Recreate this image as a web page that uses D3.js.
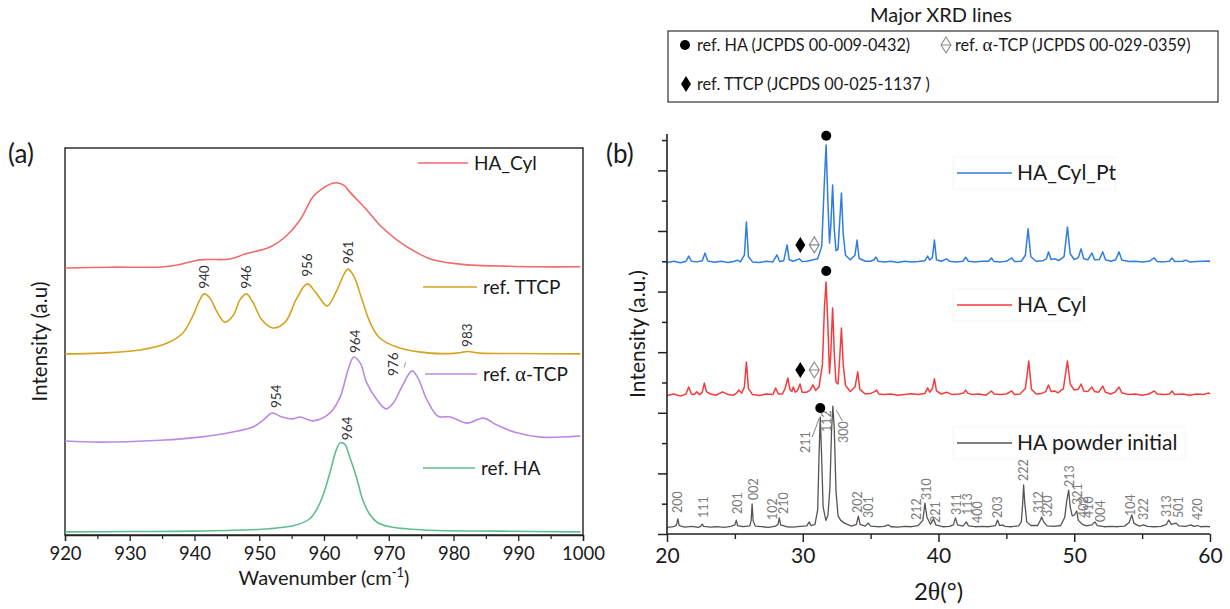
<!DOCTYPE html>
<html><head><meta charset="utf-8">
<script src="https://cdn.jsdelivr.net/npm/d3@7"></script>
<style>
body{margin:0;background:#fff;}
svg text{font-family:Lato,"Open Sans",sans-serif;fill:#1a1a1a;}
</style></head><body>
<svg id="chart" width="1230" height="609"></svg>
<script>
// ---------- Panel (a): Raman spectra, stacked (wavenumber cm-1, intensity a.u.) ----------
const ramanNames = ["HA_Cyl", "ref. TTCP", "ref. \u03b1-TCP", "ref. HA"];
const ramanColors = ["#f26a6a", "#d6a31e", "#bb8ae6", "#5cbf8c"];

const ramanHACyl = [[920,69.0],[927,69.2],[935.4,69.3],[938,70.0],[940.8,71.1],[945.5,71.3],[947.8,72.6],
  [951.7,74.4],[954.0,77.0],[956.3,81.4],[958.3,87.4],[959.6,89.3],[961.2,90.8],[962.0,91.0],[963.2,90.2],[964.0,88.6],
  [966.6,84.0],[968.6,80.1],[971.3,76.2],[974.4,72.9],[976.8,71.1],[982.1,69.8],[987.2,69.5],[992.3,69.3],[999.6,69.3]];

const ramanTTCP = [[920,46.8],[925.4,47.0],[931.6,47.8],[935.8,49.6],[938.2,52.2],[939.8,56.8],[940.8,60.7],
  [941.5,62.3],[942.4,61.2],[943.5,57.6],[944.7,55.0],[946.0,56.8],[947.0,60.7],[948.0,62.3],[949.0,60.2],
  [950.4,55.6],[952.1,53.5],[954.0,55.0],[955.8,61.2],[957.4,64.9],[958.8,62.5],[960.5,59.2],[962.0,63.3],
  [963.1,67.4],[963.7,68.7],[964.6,66.9],[965.9,60.7],[967.1,55.0],[968.6,50.9],[971.7,48.3],[976.4,47.0],
  [980.5,47.0],[982.2,47.4],[984.0,47.0],[990,46.9],[999.6,46.8]];

const ramanATCP = [[920,24.3],[925.4,24.0],[934.7,24.5],[940.8,25.3],[945.9,26.6],[949.0,27.9],[950.6,29.7],
  [952.0,31.5],[953.5,30.5],[955.1,30.0],[956.3,30.5],[958.3,29.5],[960.9,31.5],[962.5,35.7],[963.7,42.6],
  [964.6,46.0],[965.6,44.4],[966.6,39.3],[968.2,34.9],[969.6,32.6],[970.7,34.1],[972.0,38.2],[973.6,42.4],
  [974.5,40.6],[975.9,34.9],[977.6,30.7],[979.5,30.5],[982.1,28.9],[984.6,30.2],[986.7,28.4],[989.8,26.4],
  [993.4,25.3],[999.6,25.6]];

const ramanHA = [[920,0.8],[930,0.9],[939.6,1.0],[951.5,1.6],[955.5,2.5],[957.8,4.2],[959.0,7.0],[959.8,10.0],
  [960.9,16.0],[961.8,21.5],[962.5,23.8],[963.2,23.5],[964.0,20.0],[965.0,15.0],[966.0,9.0],[967.0,5.5],
  [968.2,3.3],[970.0,2.2],[975.3,1.3],[987.2,1.0],[999.6,0.8]];

const ramanSeries = [ramanHACyl, ramanTTCP, ramanATCP, ramanHA];

// peak annotations: [text, wavenumber, intensity at label foot]
const ramanPeakLabels = [["940",941.5,63.6],["946",948.0,63.6],["956",957.4,66.7],["961",963.7,70.0],
  ["983",982.1,48.6],["954",952.6,32.8],["964",964.8,47.0],["976",970.7,41.1],["964",963.6,24.5]];

const ramanTicks = [920,930,940,950,960,970,980,990,1000];
const ramanMinorTicks = [925,935,945,955,965,975,985,995];

// ---------- Panel (b): XRD patterns, stacked (2theta deg, intensity a.u.) ----------
const xrdNames = ["HA_Cyl_Pt", "HA_Cyl", "HA powder initial"];
const xrdColors = ["#2f7de1", "#f43c3c", "#555555"];

const xrdHACylPt = [[20.0,8.96],[20.5,9.00],[21.0,8.95],[21.4,9.00],[21.6,9.17],[21.8,9.00],[22.2,8.98],[22.6,9.02],
  [22.8,9.27],[23.0,9.01],[23.5,8.97],[24.0,9.00],[24.5,8.96],[25.0,9.00],[25.2,9.04],[25.4,8.98],[25.7,9.2],
  [25.85,10.30],[26.0,9.15],[26.3,8.98],[26.8,8.96],[27.3,9.00],[27.8,8.98],[28.1,9.21],[28.3,8.99],[28.6,9.02],
  [28.85,9.54],[29.0,9.05],[29.3,9.00],[29.75,9.08],[29.95,8.99],[30.3,9.00],[30.7,9.04],[31.1,9.08],[31.4,9.5],
  [31.58,11.5],[31.72,12.84],[31.85,11.0],[31.97,9.6],[32.07,10.2],[32.2,11.52],[32.33,10.0],[32.45,9.35],
  [32.6,9.4],[32.72,10.3],[32.85,11.25],[32.98,9.9],[33.15,9.2],[33.5,9.05],[33.85,9.2],[34.0,9.70],[34.15,9.1],
  [34.6,9.00],[35.0,9.00],[35.25,9.05],[35.4,9.14],[35.55,9.00],[36.0,8.98],[36.5,9.00],[37.0,8.96],[37.5,9.00],
  [38.0,8.98],[38.5,8.99],[39.0,9.02],[39.2,9.17],[39.35,9.04],[39.55,9.12],[39.7,9.70],[39.85,9.05],[40.2,9.00],
  [40.6,9.08],[40.8,9.00],[41.3,8.98],[41.8,9.00],[42.0,9.14],[42.2,9.00],[42.7,8.98],[43.2,9.00],[43.7,9.00],
  [43.9,9.11],[44.1,8.99],[44.6,8.98],[45.0,9.00],[45.4,9.11],[45.6,8.99],[46.1,9.00],[46.4,9.2],[46.6,10.07],
  [46.8,9.15],[47.2,9.00],[47.7,9.02],[47.95,9.08],[48.1,9.31],[48.3,9.06],[48.6,9.08],[48.85,9.02],[49.25,9.15],
  [49.5,10.13],[49.7,9.25],[50.0,9.06],[50.3,9.12],[50.5,9.41],[50.7,9.08],[51.0,9.05],[51.3,9.27],[51.5,9.05],
  [51.85,9.06],[52.1,9.31],[52.3,9.05],[52.7,9.00],[53.05,9.05],[53.3,9.31],[53.5,9.04],[54.0,8.99],[54.5,9.00],
  [55.0,8.98],[55.5,9.00],[55.9,9.11],[56.1,8.99],[56.6,8.98],[57.0,9.00],[57.2,9.11],[57.4,8.99],[58.0,9.00],
  [58.2,9.04],[58.5,8.98],[59.0,8.99],[59.5,9.00],[59.9,9.01],[60.0,8.98]];

const xrdHACyl = [[20.0,4.57],[20.5,4.62],[21.0,4.55],[21.4,4.62],[21.6,4.85],[21.8,4.62],[22.0,4.60],[22.2,4.69],
  [22.4,4.60],[22.6,4.68],[22.75,4.98],[22.9,4.70],[23.2,4.62],[23.6,4.58],[24.1,4.69],[24.5,4.60],[24.9,4.58],
  [25.15,4.66],[25.3,4.75],[25.5,4.65],[25.7,4.85],[25.85,5.68],[26.0,4.80],[26.3,4.60],[26.8,4.57],[27.3,4.62],
  [27.8,4.60],[28.0,4.82],[28.2,4.62],[28.5,4.62],[28.7,4.80],[28.9,5.15],[29.05,4.78],[29.2,4.70],[29.3,4.85],
  [29.45,4.68],[29.6,4.72],[29.8,4.95],[29.95,4.68],[30.3,4.68],[30.55,4.75],[30.75,4.92],[30.95,4.74],[31.2,4.85],
  [31.45,5.6],[31.6,7.5],[31.72,8.32],[31.85,6.9],[31.97,5.3],[32.05,5.8],[32.2,7.46],[32.33,5.9],[32.45,5.0],
  [32.6,4.95],[32.72,5.8],[32.85,6.80],[32.98,5.6],[33.15,4.9],[33.5,4.70],[33.85,4.85],[34.05,5.35],[34.2,4.78],
  [34.6,4.62],[35.0,4.64],[35.3,4.70],[35.45,4.75],[35.6,4.62],[36.0,4.60],[36.5,4.62],[37.0,4.58],[37.5,4.60],
  [38.0,4.63],[38.5,4.60],[39.0,4.64],[39.2,4.82],[39.35,4.68],[39.55,4.80],[39.7,5.12],[39.85,4.72],[40.2,4.62],
  [40.6,4.68],[41.0,4.60],[41.5,4.62],[41.85,4.65],[42.0,4.75],[42.15,4.65],[42.5,4.60],[43.0,4.62],[43.5,4.58],
  [43.9,4.72],[44.1,4.62],[44.6,4.60],[45.0,4.62],[45.4,4.72],[45.6,4.60],[46.0,4.62],[46.4,4.80],[46.65,5.71],
  [46.85,4.78],[47.2,4.62],[47.6,4.64],[47.9,4.70],[48.1,4.92],[48.3,4.70],[48.55,4.72],[48.8,4.66],[49.2,4.80],
  [49.5,5.71],[49.7,4.95],[50.0,4.75],[50.3,4.78],[50.5,4.95],[50.7,4.72],[51.0,4.70],[51.3,4.85],[51.5,4.70],
  [51.8,4.68],[52.1,4.88],[52.3,4.68],[52.7,4.62],[53.0,4.68],[53.3,4.85],[53.5,4.66],[54.0,4.60],[54.5,4.62],
  [55.0,4.58],[55.5,4.62],[55.9,4.72],[56.1,4.62],[56.6,4.60],[57.0,4.62],[57.2,4.72],[57.4,4.60],[58.0,4.62],
  [58.5,4.58],[59.0,4.62],[59.5,4.60],[59.9,4.65],[60.0,4.62]];

const xrdPowder = [[20.0,0.22],[20.5,0.24],[20.7,0.30],[20.8,0.50],[20.9,0.28],[21.3,0.23],[21.8,0.25],[22.3,0.22],
  [22.5,0.26],[22.6,0.33],[22.7,0.25],[23.2,0.23],[23.7,0.24],[24.2,0.22],[24.7,0.25],[25.0,0.30],[25.1,0.46],
  [25.2,0.28],[25.6,0.24],[26.1,0.27],[26.2,0.45],[26.27,0.99],[26.35,0.42],[26.5,0.26],[27.0,0.24],[27.5,0.22],
  [28.0,0.26],[28.18,0.32],[28.27,0.53],[28.37,0.30],[28.8,0.24],[29.3,0.23],[29.8,0.25],[30.3,0.27],[30.48,0.40],
  [30.6,0.28],[30.9,0.32],[31.1,0.8],[31.2,2.6],[31.29,3.86],[31.38,2.7],[31.5,0.9],[31.7,0.45],[31.85,0.6],
  [32.0,1.5],[32.12,3.4],[32.22,4.22],[32.32,3.5],[32.45,1.4],[32.6,0.6],[32.8,0.45],[33.1,0.35],[33.6,0.26],
  [33.95,0.32],[34.1,0.59],[34.22,0.32],[34.6,0.26],[34.83,0.36],[35.0,0.26],[35.5,0.24],[36.0,0.25],[36.3,0.30],
  [36.5,0.24],[37.0,0.23],[37.5,0.25],[38.0,0.24],[38.5,0.28],[38.85,0.45],[39.0,1.02],[39.15,0.55],[39.4,0.32],
  [39.63,0.50],[39.8,0.30],[40.3,0.24],[40.8,0.25],[41.1,0.30],[41.25,0.53],[41.4,0.30],[41.8,0.26],[42.05,0.40],
  [42.2,0.27],[42.7,0.24],[43.2,0.25],[43.7,0.24],[44.2,0.28],[44.35,0.46],[44.5,0.28],[44.7,0.30],[44.9,0.25],
  [45.4,0.24],[45.9,0.27],[46.1,0.40],[46.2,1.0],[46.27,1.62],[46.35,1.05],[46.5,0.40],[46.8,0.28],[47.3,0.28],
  [47.5,0.45],[47.6,0.56],[47.75,0.40],[48.0,0.27],[48.5,0.25],[49.0,0.28],[49.3,0.55],[49.45,1.1],[49.59,1.45],
  [49.7,0.9],[49.85,0.6],[50.0,0.62],[50.18,0.76],[50.3,0.45],[50.6,0.32],[50.9,0.27],[51.3,0.30],[51.51,0.40],
  [51.7,0.28],[52.2,0.24],[52.7,0.25],[53.2,0.24],[53.7,0.26],[54.05,0.38],[54.24,0.63],[54.4,0.35],[54.8,0.26],
  [55.1,0.30],[55.4,0.25],[55.9,0.24],[56.4,0.25],[56.8,0.32],[56.96,0.46],[57.15,0.32],[57.5,0.36],[57.7,0.27],
  [58.2,0.25],[58.6,0.30],[58.8,0.25],[59.1,0.28],[59.3,0.24],[59.7,0.25],[60.0,0.24]];

const xrdSeries = [xrdHACylPt, xrdHACyl, xrdPowder];

// Miller indices of the HA powder reflections: [hkl, 2theta, intensity at label foot]
const hklLabels = [["200",20.81,0.69],["111",22.66,0.53],["201",25.17,0.66],["002",26.35,1.12],["102",27.75,0.46],
  ["210",28.56,0.66],["211",30.18,2.67],["112",31.73,3.37],["300",32.99,3.00],["202",34.02,0.69],["301",34.83,0.53],
  ["212",38.38,0.46],["310",39.11,1.12],["221",39.78,0.36],["311",41.33,0.63],["113",42.14,0.63],["400",42.88,0.36],
  ["203",44.35,0.53],["222",46.27,1.75],["312",47.38,0.69],["320",48.04,0.56],["213",49.67,1.55],["321",50.26,0.96],
  ["402",50.70,0.53],["410",51.07,0.53],["004",51.96,0.40],["104",54.17,0.59],["322",55.13,0.46],["313",56.83,0.56],
  ["501",57.71,0.53],["420",59.11,0.46]];
const hklLeaders = [[[30.70,3.20],[31.22,3.83]], [[32.47,4.09],[32.92,3.73]]];

// phase markers: [2theta, intensity]
const markHA = [[31.73,13.14],[31.73,8.68],[31.29,4.16]];
const markTTCP = [[29.82,9.54],[29.82,5.41]];
const markATCP = [[30.85,9.54],[30.85,5.41]];

const xrdTicks = [20,30,40,50,60];
const xrdMinorTicks = [25,35,45,55];
const xrdYTicks = [0,1,2,3,4,5,6,7,8,9,10,11,12,13];

const phaseLegend = ["ref. HA (JCPDS 00-009-0432)", "ref. TTCP (JCPDS 00-025-1137 )"];

// ---------- drawing ----------
const svg = d3.select("#chart");
const AX = "#222";

// Panel (a)
const xa = d3.scaleLinear().domain([920, 1000]).range([65, 583]);
const ya = d3.scaleLinear().domain([0, 100]).range([535, 148]);
const ga = svg.append("g");

ga.append("rect").attr("x", xa(920)).attr("y", ya(100)).attr("width", xa(1000) - xa(920))
  .attr("height", ya(0) - ya(100)).attr("fill", "none").attr("stroke", AX).attr("stroke-width", 1.4);

const lineA = d3.line().x(d => xa(d[0])).y(d => ya(d[1])).curve(d3.curveCatmullRom.alpha(0.5));
ramanSeries.forEach((s, i) => {
  ga.append("path").datum(s).attr("d", lineA).attr("fill", "none")
    .attr("stroke", ramanColors[i]).attr("stroke-width", 1.6);
});

ga.append("g").attr("transform", `translate(0,${ya(0)})`)
  .call(d3.axisBottom(xa).tickValues(ramanTicks).tickSize(6).tickPadding(6).tickFormat(d3.format("d")))
  .call(g => { g.select(".domain").attr("stroke", AX).attr("stroke-width", 1.4);
    g.selectAll(".tick line").attr("stroke", AX).attr("stroke-width", 1.3);
    g.selectAll("text").attr("font-size", 18.5).attr("fill", "#1a1a1a").attr("font-family", "Lato, sans-serif"); });
ga.append("g").attr("transform", `translate(0,${ya(0)})`)
  .call(d3.axisBottom(xa).tickValues(ramanMinorTicks).tickSize(4).tickFormat(""))
  .call(g => { g.select(".domain").remove(); g.selectAll(".tick line").attr("stroke", AX).attr("stroke-width", 1.2); });

ga.selectAll("text.pk").data(ramanPeakLabels).join("text").attr("class", "pk")
  .attr("transform", d => `translate(${xa(d[1])},${ya(d[2])}) rotate(-90)`)
  .attr("dy", "0.36em").attr("font-size", 13.5).style("fill", "#333").text(d => d[0]);
ga.append("line").attr("x1", xa(972.4)).attr("y1", ya(43.3)).attr("x2", xa(972.6)).attr("y2", ya(44.6))
  .attr("stroke", "#999").attr("stroke-width", 1);

// legend (a)
const legA = [[418, 468, 163], [423, 477, 287], [425, 477, 374], [423, 475, 468]];
legA.forEach((p, i) => {
  ga.append("line").attr("x1", p[0]).attr("x2", p[1]).attr("y1", p[2]).attr("y2", p[2])
    .attr("stroke", ramanColors[i]).attr("stroke-width", 1.6);
  const t = ga.append("text").attr("x", p[1] + 6).attr("y", p[2]).attr("dy", "0.35em").attr("font-size", 19);
  if (i === 2) {
    t.append("tspan").text("ref. ");
    t.append("tspan").attr("font-family", "Liberation Serif, serif").attr("font-size", 21).text("\u03b1");
    t.append("tspan").text("-TCP");
  } else t.text(ramanNames[i]);
});

svg.append("text").attr("x", 8).attr("y", 163).attr("font-size", 26).text("(a)");
svg.append("text").attr("x", xa(960)).attr("y", 585).attr("text-anchor", "middle").attr("font-size", 20)
  .call(t => { t.append("tspan").text("Wavenumber (cm");
    t.append("tspan").attr("font-size", 13).attr("dy", -8).text("-1");
    t.append("tspan").attr("dy", 8).text(")"); });
svg.append("text").attr("transform", `translate(47,${(ya(0) + ya(100)) / 2}) rotate(-90)`)
  .attr("text-anchor", "middle").attr("font-size", 20.5).text("Intensity (a.u)");

// Panel (b)
const xb = d3.scaleLinear().domain([20, 60]).range([667, 1210]);
const yb = d3.scaleLinear().domain([0, 13.2]).range([534, 134]);
const gb = svg.append("g");

const lineB = d3.line().x(d => xb(d[0])).y(d => yb(d[1]));
xrdSeries.forEach((s, i) => {
  gb.append("path").datum(s).attr("d", lineB).attr("fill", "none")
    .attr("stroke", xrdColors[i]).attr("stroke-width", i === 2 ? 1.3 : 1.5).attr("stroke-linejoin", "round");
});

gb.append("g").attr("transform", `translate(0,${yb(0)})`)
  .call(d3.axisBottom(xb).tickValues(xrdTicks).tickSize(8).tickPadding(6).tickFormat(d3.format("d")))
  .call(g => { g.select(".domain").attr("d", `M${xb(20)},0H${xb(60)}`).attr("stroke", AX).attr("stroke-width", 1.6);
    g.selectAll(".tick line").attr("stroke", AX).attr("stroke-width", 1.5);
    g.selectAll("text").attr("font-size", 21).attr("fill", "#1a1a1a").attr("font-family", "Lato, sans-serif"); });
gb.append("g").attr("transform", `translate(0,${yb(0)})`)
  .call(d3.axisBottom(xb).tickValues(xrdMinorTicks).tickSize(5).tickFormat(""))
  .call(g => { g.select(".domain").remove(); g.selectAll(".tick line").attr("stroke", AX).attr("stroke-width", 1.4); });

gb.append("g").attr("transform", `translate(${xb(20)},0)`)
  .call(d3.axisLeft(yb).tickValues(xrdYTicks).tickSize(0).tickFormat(""))
  .call(g => { g.select(".domain").attr("d", `M0,${yb(0)}V${yb(13.2)}`).attr("stroke", AX).attr("stroke-width", 1.6);
    g.selectAll(".tick line").attr("x2", d => d % 2 === 0 ? -9 : -5).attr("stroke", AX).attr("stroke-width", 1.5); });

gb.selectAll("text.hkl").data(hklLabels).join("text").attr("class", "hkl")
  .attr("transform", d => `translate(${xb(d[1])},${yb(d[2])}) rotate(-90)`)
  .attr("dy", "0.36em").attr("font-size", 12.5).style("fill", "#7a7a7a").text(d => d[0]);
gb.selectAll("line.ld").data(hklLeaders).join("line").attr("class", "ld")
  .attr("x1", d => xb(d[0][0])).attr("y1", d => yb(d[0][1])).attr("x2", d => xb(d[1][0])).attr("y2", d => yb(d[1][1]))
  .attr("stroke", "#888").attr("stroke-width", 1);

// phase markers
const diamond = (cx, cy) => `M${cx},${cy - 8}L${cx + 5},${cy}L${cx},${cy + 8}L${cx - 5},${cy}Z`;
gb.selectAll("circle.ha").data(markHA).join("circle").attr("class", "ha")
  .attr("cx", d => xb(d[0])).attr("cy", d => yb(d[1])).attr("r", 5).attr("fill", "#000");
gb.selectAll("path.tt").data(markTTCP).join("path").attr("class", "tt")
  .attr("d", d => diamond(xb(d[0]), yb(d[1]))).attr("fill", "#000");
gb.selectAll("path.at").data(markATCP).join("path").attr("class", "at")
  .attr("d", d => diamond(xb(d[0]), yb(d[1])) + `M${xb(d[0]) - 5},${yb(d[1])}H${xb(d[0]) + 5}`)
  .attr("fill", "none").attr("stroke", "#8a8a8a").attr("stroke-width", 1.1);

// legend (b)
const legBy = [173, 305, 443];
xrdNames.forEach((n, i) => {
  const y = legBy[i];
  gb.append("rect").attr("x", 953).attr("y", y - 16).attr("width", i === 2 ? 232 : (i === 0 ? 162 : 128)).attr("height", 32)
    .attr("fill", "#fff").attr("stroke", "#f6f6f6");
  gb.append("line").attr("x1", 957).attr("x2", 1012).attr("y1", y).attr("y2", y)
    .attr("stroke", xrdColors[i]).attr("stroke-width", 1.6);
  gb.append("text").attr("x", 1017).attr("y", y).attr("dy", "0.35em").attr("font-size", 21).text(n);
});

svg.append("text").attr("x", 606).attr("y", 163).attr("font-size", 26).text("(b)");
svg.append("text").attr("x", (xb(20) + xb(60)) / 2).attr("y", 600).attr("text-anchor", "middle").attr("font-size", 24)
  .call(t => { t.append("tspan").text("2");
    t.append("tspan").attr("font-family", "Liberation Serif, serif").attr("font-size", 26).text("\u03b8");
    t.append("tspan").text("(\u00b0)"); });
svg.append("text").attr("transform", `translate(645,${(yb(0) + yb(13.2)) / 2}) rotate(-90)`)
  .attr("text-anchor", "middle").attr("font-size", 21).text("Intensity (a.u.)");

// phase key box
svg.append("text").attr("x", 941).attr("y", 22).attr("text-anchor", "middle").attr("font-size", 20).text("Major XRD lines");
svg.append("rect").attr("x", 668).attr("y", 31).attr("width", 550).attr("height", 71)
  .attr("fill", "none").attr("stroke", "#333").attr("stroke-width", 1.2);
svg.append("circle").attr("cx", 685).attr("cy", 45).attr("r", 5).attr("fill", "#000");
svg.append("text").attr("x", 697).attr("y", 45).attr("dy", "0.35em").attr("font-size", 16.3).text(phaseLegend[0]);
svg.append("path").attr("d", diamond(946, 45) + "M941,45H951").attr("fill", "none").attr("stroke", "#8a8a8a").attr("stroke-width", 1.1);
svg.append("text").attr("x", 955).attr("y", 45).attr("dy", "0.35em").attr("font-size", 16.3)
  .call(t => { t.append("tspan").text("ref. ");
    t.append("tspan").attr("font-family", "Liberation Serif, serif").attr("font-size", 19).text("\u03b1");
    t.append("tspan").text("-TCP (JCPDS 00-029-0359)"); });
svg.append("path").attr("d", diamond(686, 84)).attr("fill", "#000");
svg.append("text").attr("x", 697).attr("y", 84).attr("dy", "0.35em").attr("font-size", 16.3).text(phaseLegend[1]);
</script>
</body></html>
